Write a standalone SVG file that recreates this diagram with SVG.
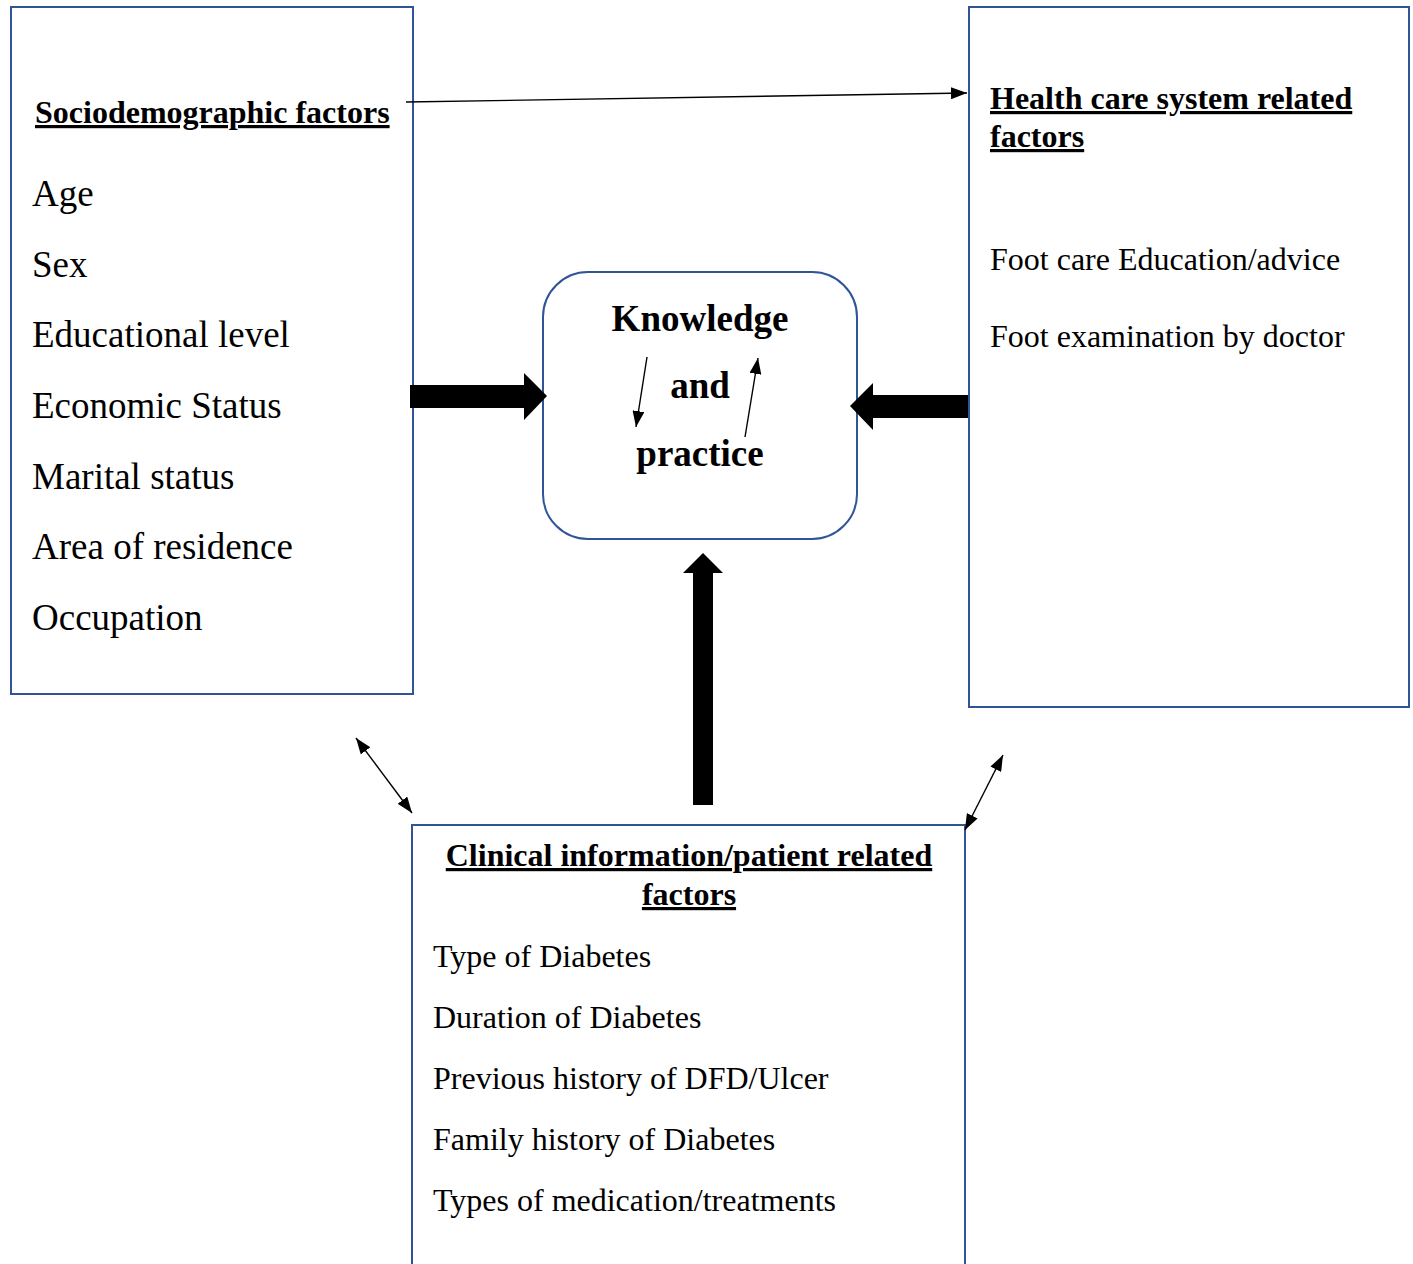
<svg xmlns="http://www.w3.org/2000/svg" width="1413" height="1264" viewBox="0 0 1413 1264">
<style>
.box{fill:#fff;stroke:#2F5597;stroke-width:2}
.t{font-family:"Liberation Serif","Times New Roman",serif;fill:#000}
.h{font-weight:bold;font-size:32px;text-decoration:underline}
.li{font-size:37px}
.lr{font-size:32px}
.lb{font-size:32px}
.k{font-weight:bold;font-size:37px}
.thin{stroke:#000;stroke-width:1.4;fill:none}
</style>
<defs>
<marker id="ah" viewBox="0 0 16 12" refX="16" refY="6" markerWidth="16" markerHeight="12" markerUnits="userSpaceOnUse" orient="auto-start-reverse">
<path d="M0,0 L16,6 L0,12 Z" fill="#000"/>
</marker>
</defs>
<rect width="1413" height="1264" fill="#fff"/>
<g id="sociodemographic">
<rect class="box" x="11" y="7" width="402" height="687"/>
<text class="t h" x="35" y="123">Sociodemographic factors</text>
<text class="t li" x="32" y="206">Age</text>
<text class="t li" x="32" y="277">Sex</text>
<text class="t li" x="32" y="347">Educational level</text>
<text class="t li" x="32" y="418">Economic Status</text>
<text class="t li" x="32" y="489">Marital status</text>
<text class="t li" x="32" y="559">Area of residence</text>
<text class="t li" x="32" y="630">Occupation</text>
</g>
<g id="healthcare">
<rect class="box" x="969" y="7" width="440" height="700"/>
<text class="t h" x="990" y="109">Health care system related</text>
<text class="t h" x="990" y="147">factors</text>
<text class="t lr" x="990" y="270">Foot care Education/advice</text>
<text class="t lr" x="990" y="347">Foot examination by doctor</text>
</g>
<g id="clinical">
<rect class="box" x="412" y="825" width="553" height="460"/>
<text class="t h" x="689" y="866" text-anchor="middle">Clinical information/patient related</text>
<text class="t h" x="689" y="905" text-anchor="middle">factors</text>
<text class="t lb" x="433" y="967">Type of Diabetes</text>
<text class="t lb" x="433" y="1028">Duration of Diabetes</text>
<text class="t lb" x="433" y="1089">Previous history of DFD/Ulcer</text>
<text class="t lb" x="433" y="1150">Family history of Diabetes</text>
<text class="t lb" x="433" y="1211">Types of medication/treatments</text>
</g>
<g id="kp">
<rect class="box" x="543" y="272" width="314" height="267" rx="45" ry="45"/>
<text class="t k" x="700" y="331" text-anchor="middle">Knowledge</text>
<text class="t k" x="700" y="398" text-anchor="middle">and</text>
<text class="t k" x="700" y="466" text-anchor="middle">practice</text>
<line class="thin" x1="647" y1="357" x2="636" y2="427" marker-end="url(#ah)"/>
<line class="thin" x1="745" y1="437" x2="758" y2="358" marker-end="url(#ah)"/>
</g>
<g id="connectors">
<line class="thin" x1="406" y1="102" x2="967" y2="93" marker-end="url(#ah)"/>
<line class="thin" x1="356" y1="738" x2="412" y2="813" marker-start="url(#ah)" marker-end="url(#ah)"/>
<line class="thin" x1="1003" y1="755" x2="965" y2="830" marker-start="url(#ah)" marker-end="url(#ah)"/>
<path d="M410,385 L524,385 L524,373 L547,396 L524,420 L524,408 L410,408 Z" fill="#000"/>
<path d="M968,395 L873,395 L873,383 L850,406 L873,430 L873,418 L968,418 Z" fill="#000"/>
<path d="M693,805 L693,573 L683,573 L703,553 L723,573 L713,573 L713,805 Z" fill="#000"/>
</g>
</svg>
